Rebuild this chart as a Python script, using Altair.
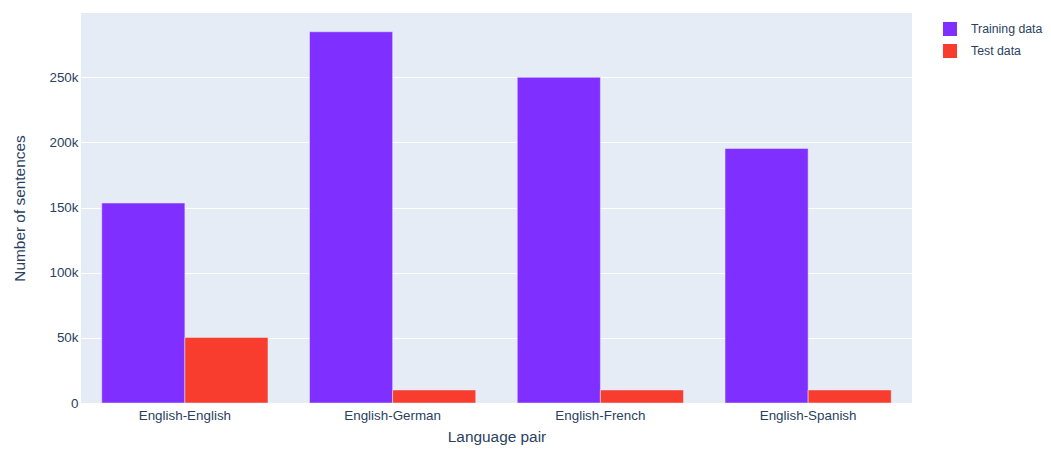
import altair as alt
import pandas as pd

pairs = ["English-English", "English-German", "English-French", "English-Spanish"]
training = [153500, 285000, 250000, 195400]
test = [50300, 10000, 10000, 10000]
series = ["Training data", "Test data"]
colors = ["#7F2FFF", "#F83C2E"]

rows = []
for p, tr, te in zip(pairs, training, test):
    rows.append({"pair": p, "series": series[0], "value": tr})
    rows.append({"pair": p, "series": series[1], "value": te})
df = pd.DataFrame(rows)

FONT = "Liberation Sans"
TXT = "#2a3f5f"

chart = alt.Chart(df).mark_bar(stroke="#E5ECF6", strokeWidth=0.5).encode(
    x=alt.X("pair:N", sort=pairs, title="Language pair",
            scale=alt.Scale(paddingInner=0.2, paddingOuter=0.1),
            axis=alt.Axis(labelAngle=0, labelFontSize=13.4, labelColor=TXT, labelFont=FONT,
                          titleFontSize=15.4, titleColor=TXT, titleFont=FONT, titleFontWeight="normal",
                          ticks=False, domain=False, labelPadding=5, titlePadding=8, grid=False)),
    xOffset=alt.XOffset("series:N", sort=series,
                        scale=alt.Scale(paddingInner=0, paddingOuter=0)),
    y=alt.Y("value:Q", title="Number of sentences",
            scale=alt.Scale(domain=[0, 299400], nice=False),
            axis=alt.Axis(values=[0, 50000, 100000, 150000, 200000, 250000],
                          labelExpr="datum.value == 0 ? '0' : format(datum.value / 1000, 'd') + 'k'",
                          labelFontSize=13.4, labelColor=TXT, labelFont=FONT,
                          titleFontSize=15.4, titleColor=TXT, titleFont=FONT, titleFontWeight="normal",
                          ticks=False, domain=False, labelPadding=3, titlePadding=21,
                          gridColor="white", gridWidth=1)),
    color=alt.Color("series:N", sort=series,
                    scale=alt.Scale(domain=series, range=colors),
                    legend=alt.Legend(title=None, orient="none", legendX=862, legendY=9,
                                      symbolType="square", symbolSize=196,
                                      symbolStrokeWidth=0,
                                      labelFontSize=12.3, labelColor=TXT, labelFont=FONT,
                                      labelOffset=14, rowPadding=8, padding=0)),
).properties(
    width=831, height=390,
    padding={"left": 73, "top": 5, "right": 131, "bottom": 42},
    autosize=alt.AutoSizeParams(type="none"),
).configure(
    background="white",
    view=alt.ViewConfig(fill="#E5ECF6", stroke=None),
)

chart.save("out.html", embed_options={"renderer": "svg", "actions": False})
